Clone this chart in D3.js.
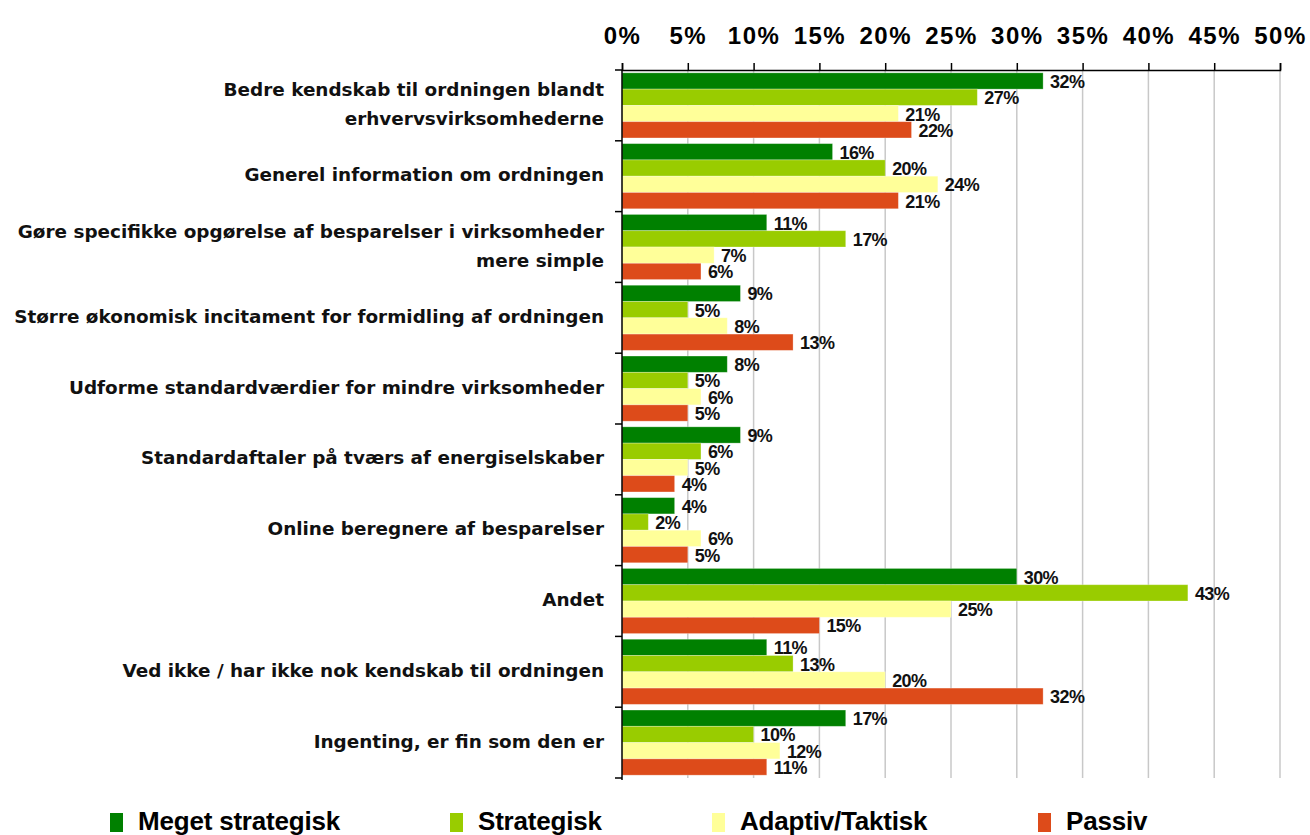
<!DOCTYPE html>
<html>
<head>
<meta charset="utf-8">
<script src="https://cdn.jsdelivr.net/npm/d3@7"></script>
<style>
  html, body { margin: 0; padding: 0; background: #fff; }
  svg { display: block; font-family: "Liberation Sans", Arial, sans-serif; }
</style>
</head>
<body>
<svg id="chart" width="1310" height="835"></svg>
<script>
// Survey answers: what would improve the scheme, split by company profile
const categories = [
  ["Bedre kendskab til ordningen blandt", "erhvervsvirksomhederne"],
  ["Generel information om ordningen"],
  ["Gøre specifikke opgørelse af besparelser i virksomheder", "mere simple"],
  ["Større økonomisk incitament for formidling af ordningen"],
  ["Udforme standardværdier for mindre virksomheder"],
  ["Standardaftaler på tværs af energiselskaber"],
  ["Online beregnere af besparelser"],
  ["Andet"],
  ["Ved ikke / har ikke nok kendskab til ordningen"],
  ["Ingenting, er fin som den er"]
];
const seriesNames = ["Meget strategisk", "Strategisk", "Adaptiv/Taktisk", "Passiv"];
const seriesColors = ["#008000", "#99cc00", "#ffff99", "#dd4b1a"];
const megetStrategisk = [32, 16, 11, 9, 8, 9, 4, 30, 11, 17];
const strategisk      = [27, 20, 17, 5, 5, 6, 2, 43, 13, 10];
const adaptivTaktisk  = [21, 24, 7, 8, 6, 5, 6, 25, 20, 12];
const passiv          = [22, 21, 6, 13, 5, 4, 5, 15, 32, 11];
const seriesValues = [megetStrategisk, strategisk, adaptivTaktisk, passiv];
const tickValues = [0, 5, 10, 15, 20, 25, 30, 35, 40, 45, 50];

const svg = d3.select("#chart");
const plotLeft = 622, plotRight = 1280, plotTop = 70, plotBottom = 778;

const x = d3.scaleLinear().domain([0, 50]).range([plotLeft, plotRight]);
const y = d3.scaleBand().domain(d3.range(categories.length)).range([plotTop, plotBottom])
  .paddingInner(0.08).paddingOuter(0.04);
const ySub = d3.scaleBand().domain(d3.range(seriesNames.length)).range([0, y.bandwidth()]);

// vertical gridlines
svg.append("g").selectAll("line").data(tickValues.slice(1)).join("line")
  .attr("x1", d => x(d)).attr("x2", d => x(d))
  .attr("y1", plotTop).attr("y2", plotBottom)
  .attr("stroke", "#c8c8c8").attr("stroke-width", 1.5);

// top axis
const xAxis = d3.axisTop(x).tickValues(tickValues).tickFormat(d => d + "%")
  .tickSize(7).tickPadding(19);
const gx = svg.append("g").attr("transform", `translate(0,${plotTop})`).call(xAxis);
gx.select(".domain").attr("stroke", "#000").attr("stroke-width", 1.5);
gx.selectAll(".tick line").attr("stroke", "#000").attr("stroke-width", 1.5);
gx.selectAll(".tick text")
  .attr("font-size", 24).attr("font-weight", "bold").attr("fill", "#000")
  .attr("font-family", "Liberation Sans, Arial, sans-serif")
  .attr("letter-spacing", "1.5px");

// bars
const groups = svg.append("g").selectAll("g").data(categories).join("g")
  .attr("transform", (d, i) => `translate(0,${y(i)})`);

groups.each(function(cat, ci) {
  const g = d3.select(this);
  seriesValues.forEach((vals, si) => {
    const v = vals[ci];
    g.append("rect")
      .attr("x", x(0)).attr("y", ySub(si))
      .attr("width", x(v) - x(0)).attr("height", ySub.bandwidth())
      .attr("fill", seriesColors[si])
      .attr("stroke", "#fff").attr("stroke-opacity", 0.35).attr("stroke-width", 0.8);
  });
});

// value labels
groups.each(function(cat, ci) {
  const g = d3.select(this);
  seriesValues.forEach((vals, si) => {
    const v = vals[ci];
    g.append("text")
      .attr("x", x(v) + 7).attr("y", ySub(si) + ySub.bandwidth() / 2 + 7)
      .attr("font-size", 18).attr("font-weight", "bold").attr("fill", "#111")
      .attr("letter-spacing", "-0.6px")
      .text(v + "%");
  });
});

// left axis with category boundary ticks
const bounds = d3.range(categories.length + 1).map(i => plotTop + (plotBottom - plotTop) * i / categories.length);
svg.append("line").attr("x1", plotLeft).attr("x2", plotLeft).attr("y1", plotTop).attr("y2", plotBottom + 2)
  .attr("stroke", "#000").attr("stroke-width", 1.5);
svg.append("g").selectAll("line").data(bounds).join("line")
  .attr("x1", plotLeft - 7).attr("x2", plotLeft).attr("y1", d => d).attr("y2", d => d)
  .attr("stroke", "#000").attr("stroke-width", 1.5);

// category labels
const catLabels = svg.append("g").selectAll("text").data(categories).join("text")
  .attr("text-anchor", "end")
  .attr("font-family", "DejaVu Sans, Verdana, sans-serif")
  .attr("font-size", 18.4).attr("font-weight", "bold").attr("fill", "#111")
  .attr("transform", (d, i) => `translate(604,${y(i) + y.bandwidth() / 2})`);
catLabels.each(function(lines) {
  const t = d3.select(this);
  const lh = 29;
  lines.forEach((line, li) => {
    t.append("tspan").attr("x", 0)
      .attr("y", (li - (lines.length - 1) / 2) * lh + 5)
      .text(line);
  });
});

// legend
const legendX = [110, 450, 712, 1038];
const legend = svg.append("g").selectAll("g").data(seriesNames).join("g")
  .attr("transform", (d, i) => `translate(${legendX[i]},813)`);
legend.append("rect").attr("width", 13).attr("height", 19)
  .attr("fill", (d, i) => seriesColors[i]);
legend.append("text").attr("x", 28).attr("y", 17)
  .attr("font-size", 26).attr("font-weight", "bold").attr("fill", "#000")
  .attr("letter-spacing", "-0.2px")
  .text(d => d);
</script>
</body>
</html>
